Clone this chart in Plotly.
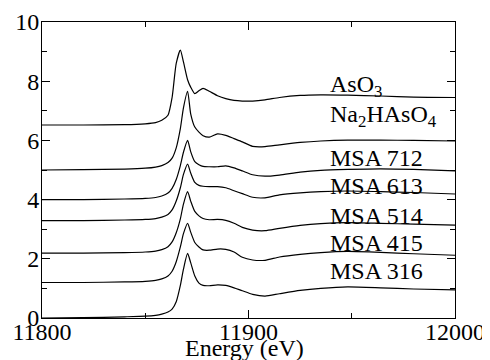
import plotly.graph_objects as go

# Shared energy grid (eV)
energy = [11800, 11820, 11840, 11850, 11855, 11858, 11861, 11863, 11865, 11867,
          11868.5, 11870.5, 11872, 11874, 11876, 11878, 11881, 11885, 11889, 11893,
          11897, 11902, 11908, 11915, 11925, 11935, 11948, 11964, 11980, 12000]

aso3 = [6.52, 6.52, 6.53, 6.56, 6.60, 6.68, 6.85, 7.45, 8.60, 9.05,
        8.65, 8.05, 7.80, 7.58, 7.68, 7.76, 7.66, 7.51, 7.41, 7.35,
        7.33, 7.33, 7.37, 7.45, 7.52, 7.54, 7.53, 7.50, 7.46, 7.45]

na2haso4 = [5.00, 5.01, 5.03, 5.06, 5.10, 5.15, 5.25, 5.40, 5.75, 6.40,
            7.10, 7.66, 6.90, 6.45, 6.28, 6.16, 6.11, 6.22, 6.17, 6.06,
            5.95, 5.80, 5.79, 5.85, 5.93, 5.98, 6.01, 6.01, 6.00, 5.98]

msa712 = [4.00, 4.00, 4.02, 4.04, 4.07, 4.12, 4.22, 4.38, 4.68, 5.15,
          5.60, 6.00, 5.62, 5.28, 5.18, 5.12, 5.11, 5.11, 5.14, 5.07,
          4.97, 4.84, 4.79, 4.83, 4.93, 4.99, 5.02, 5.04, 5.02, 4.97]

msa613 = [3.29, 3.29, 3.31, 3.33, 3.36, 3.41, 3.50, 3.65, 3.95, 4.40,
          4.85, 5.20, 4.90, 4.58, 4.48, 4.45, 4.44, 4.44, 4.40, 4.30,
          4.20, 4.08, 4.06, 4.16, 4.23, 4.27, 4.29, 4.27, 4.24, 4.19]

msa514 = [2.19, 2.19, 2.21, 2.23, 2.26, 2.31, 2.41, 2.57, 2.88, 3.35,
          3.85, 4.27, 3.95, 3.60, 3.45, 3.36, 3.32, 3.33, 3.30, 3.20,
          3.06, 2.97, 2.95, 3.03, 3.13, 3.19, 3.22, 3.20, 3.17, 3.14]

msa415 = [1.20, 1.20, 1.22, 1.24, 1.27, 1.32, 1.42, 1.58, 1.90, 2.40,
          2.85, 3.20, 2.90, 2.55, 2.40, 2.30, 2.29, 2.33, 2.32, 2.23,
          2.05, 1.96, 1.95, 2.06, 2.15, 2.21, 2.25, 2.22, 2.17, 2.12]

msa316 = [0.00, 0.01, 0.04, 0.06, 0.09, 0.13, 0.20, 0.30, 0.55, 1.10,
          1.65, 2.18, 1.87, 1.42, 1.18, 1.10, 1.09, 1.12, 1.10, 1.02,
          0.92, 0.80, 0.74, 0.82, 0.93, 1.00, 1.05, 1.02, 0.98, 0.95]

series_names = ["AsO<sub>3</sub>", "Na<sub>2</sub>HAsO<sub>4</sub>", "MSA 712",
                "MSA 613", "MSA 514", "MSA 415", "MSA 316"]
series_values = [aso3, na2haso4, msa712, msa613, msa514, msa415, msa316]

label_x = 11938.5
label_y = [7.83, 6.82, 5.40, 4.45, 3.46, 2.55, 1.60]

x_ticks = [11800, 11900, 12000]
y_ticks = [0, 2, 4, 6, 8, 10]

FONT = "Liberation Serif, Times New Roman, serif"

fig = go.Figure()
for name, vals in zip(series_names, series_values):
    fig.add_trace(go.Scatter(x=energy, y=vals, mode="lines", name=name,
                             line=dict(color="black", width=1.2,
                                       shape="spline", smoothing=0.6),
                             showlegend=False))

for name, ly in zip(series_names, label_y):
    fig.add_annotation(x=label_x, y=ly, xref="x", yref="y", text=name,
                       showarrow=False, xanchor="left", yanchor="middle",
                       font=dict(family=FONT, size=24, color="black"))

# x-axis title as annotation below tick labels
fig.add_annotation(x=0.49, y=-0.052, xref="paper", yref="paper",
                   text="Energy (eV)", showarrow=False,
                   xanchor="center", yanchor="top",
                   font=dict(family=FONT, size=24, color="black"))

axis_common = dict(showline=True, linecolor="black", linewidth=1, mirror="ticks",
                   ticks="inside", ticklen=8, tickwidth=1, tickcolor="black",
                   showgrid=False, zeroline=False, automargin=False,
                   tickfont=dict(family=FONT, size=24, color="black"))

fig.update_xaxes(range=[11800, 12000], tickvals=x_ticks,
                 ticktext=[str(v) for v in x_ticks],
                 ticklabelstandoff=-8,
                 minor=dict(ticks="inside", ticklen=5, dtick=50, tick0=11800,
                            tickcolor="black", showgrid=False),
                 **axis_common)
fig.update_yaxes(range=[0, 10], tickvals=y_ticks,
                 ticktext=[str(v) for v in y_ticks],
                 ticklabelstandoff=-3,
                 minor=dict(ticks="inside", ticklen=5, dtick=1, tick0=0,
                            tickcolor="black", showgrid=False),
                 **axis_common)

fig.update_layout(width=490, height=360,
                  margin=dict(l=34, r=43, t=14, b=50, autoexpand=False),
                  paper_bgcolor="white", plot_bgcolor="white")

fig.write_html("out.html")
